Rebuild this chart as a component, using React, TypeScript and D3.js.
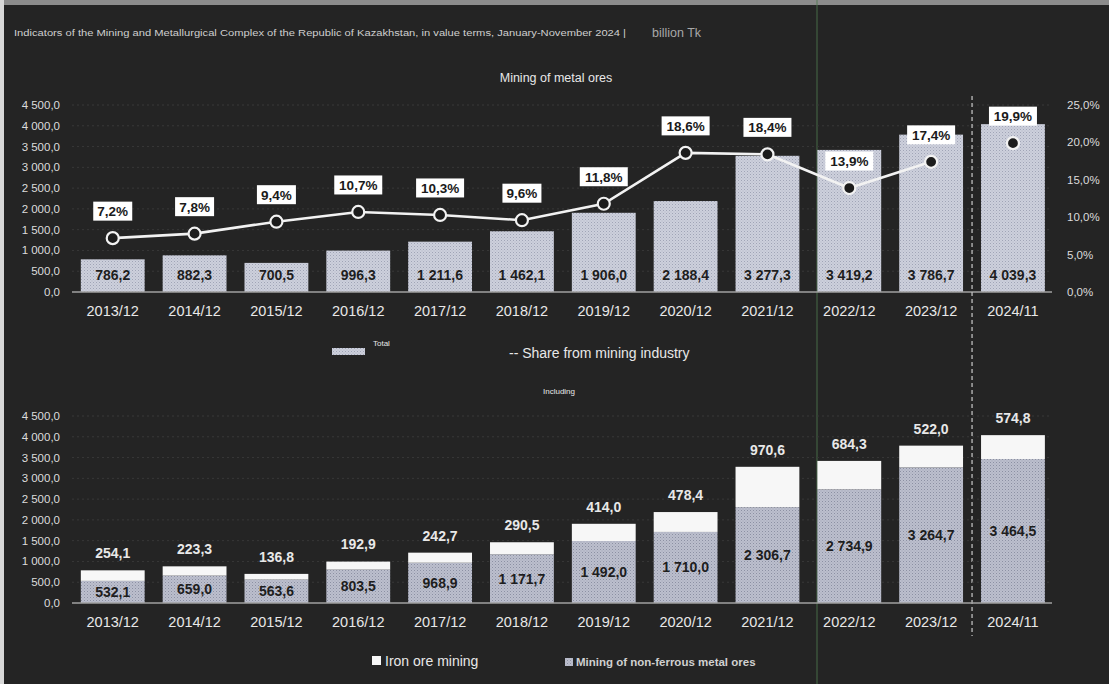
import React from 'react';
import * as d3 from 'd3';

const categories = ['2013/12', '2014/12', '2015/12', '2016/12', '2017/12', '2018/12', '2019/12', '2020/12', '2021/12', '2022/12', '2023/12', '2024/11'];
const totals = [786.2, 882.3, 700.5, 996.3, 1211.6, 1462.1, 1906.0, 2188.4, 3277.3, 3419.2, 3786.7, 4039.3];
const shares = [7.2, 7.8, 9.4, 10.7, 10.3, 9.6, 11.8, 18.6, 18.4, 13.9, 17.4, 19.9];
const nonFerrous = [532.1, 659.0, 563.6, 803.5, 968.9, 1171.7, 1492.0, 1710.0, 2306.7, 2734.9, 3264.7, 3464.5];
const ironOre = [254.1, 223.3, 136.8, 192.9, 242.7, 290.5, 414.0, 478.4, 970.6, 684.3, 522.0, 574.8];
const valueTicks = [0, 500, 1000, 1500, 2000, 2500, 3000, 3500, 4000, 4500];
const pctTicks = [0, 5, 10, 15, 20, 25];

const titleText = 'Indicators of the Mining and Metallurgical Complex of the Republic of Kazakhstan, in value terms, January-November 2024 |';
const unitText = 'billion Tk';
const topTitle = 'Mining of metal ores';
const subTitle = 'Including';
const legendTotal = 'Total';
const legendShare = '-- Share from mining industry';
const legendIron = 'Iron ore mining';
const legendNonFerrous = 'Mining of non-ferrous metal ores';

const locale = d3.formatLocale({ decimal: ',', thousands: ' ', grouping: [3], currency: ['', ''] });
const fmtVal = locale.format(',.1f');
const fmtPct = (v: number) => locale.format('.1f')(v) + '%';

const FONT = '"Liberation Sans", Arial, sans-serif';
const BG = '#242424';
const TXT = '#e8e8e8';

export default function App() {
  const W = 1109;
  const H = 684;

  const x = d3.scaleBand<string>().domain(categories).range([71, 1054.7]).paddingInner(0.22).paddingOuter(0.12);
  const bw = x.bandwidth();
  const step = x.step();

  const yTop = d3.scaleLinear().domain([0, 4500]).range([292, 105]);
  const yPct = d3.scaleLinear().domain([0, 25]).range([292, 105]);
  const yBot = d3.scaleLinear().domain([0, 4500]).range([603, 416]);

  const rows = categories.map((c, i) => ({ cat: c, nonFerrous: nonFerrous[i], ironOre: ironOre[i] }));
  const stack = d3.stack<any>().keys(['nonFerrous', 'ironOre'])(rows);

  const lineGen = d3.line<number>()
    .x((_, i) => (x(categories[i]) as number) + bw / 2)
    .y((d) => yPct(d));
  const connected = shares.slice(0, 11);

  const dashX = (x(categories[11]) as number) - (step - bw) / 2;

  return (
    <svg width={W} height={H} style={{ position: 'absolute', left: 0, top: 0, display: 'block' }} fontFamily={FONT}>
      <defs>
        <pattern id="dots" width="3" height="3" patternUnits="userSpaceOnUse">
          <rect width="3" height="3" fill="#cdd0dc" />
          <rect x="0" y="0" width="1" height="1" fill="#a0a4b6" />
          <rect x="1.5" y="1.5" width="1" height="1" fill="#b2b5c5" />
        </pattern>
        <pattern id="dots2" width="3" height="3" patternUnits="userSpaceOnUse">
          <rect width="3" height="3" fill="#bcbfcd" />
          <rect x="0" y="0" width="1" height="1" fill="#8c90a3" />
          <rect x="1.5" y="1.5" width="1" height="1" fill="#a0a4b5" />
        </pattern>
      </defs>
      <rect width={W} height={H} fill={BG} />
      <rect x={0} y={0} width={W} height={5} fill="#8c8c8c" />
      <rect x={0} y={0} width={4} height={H} fill="#d8d8d8" />
      <line x1={817} x2={817} y1={0} y2={H} stroke="#4f7a4f" strokeWidth={1.2} opacity={0.7} />

      {/* header */}
      <text x={14} y={36} fontSize={8.5} fill="#cfcfcf" textLength={612} lengthAdjust="spacingAndGlyphs">{titleText}</text>
      <text x={652} y={37} fontSize={12.5} fill="#a8a8a8">{unitText}</text>

      {/* ===== TOP CHART ===== */}
      <text x={556} y={82} fontSize={12.5} fill={TXT} textAnchor="middle">{topTitle}</text>

      {valueTicks.map((t) => (
        <g key={'tg' + t}>
          {t > 0 && <line x1={72} x2={1052} y1={yTop(t)} y2={yTop(t)} stroke="#383838" strokeDasharray="2,3" />}
          <text x={60} y={yTop(t)} dy="0.35em" fontSize={11.5} fill="#dcdcdc" textAnchor="end">{fmtVal(t)}</text>
        </g>
      ))}
      {pctTicks.map((t) => (
        <text key={'pt' + t} x={1067} y={yPct(t)} dy="0.35em" fontSize={11.5} fill="#dcdcdc">{fmtPct(t)}</text>
      ))}

      {totals.map((v, i) => (
        <g key={'tb' + i}>
          <rect x={x(categories[i])} y={yTop(v)} width={bw} height={yTop(0) - yTop(v)} fill="url(#dots)" />
          <text x={(x(categories[i]) as number) + bw / 2} y={yTop(0) - 17} dy="0.35em" fontSize={14} fontWeight="bold" fill="#1e1e1e" textAnchor="middle">{fmtVal(v)}</text>
        </g>
      ))}
      <line x1={72} x2={1052} y1={yTop(0)} y2={yTop(0)} stroke="#a0a0a0" strokeWidth={1.5} />
      {categories.map((c) => (
        <text key={'tx' + c} x={(x(c) as number) + bw / 2} y={311} dy="0.35em" fontSize={14.5} fill={TXT} textAnchor="middle">{c}</text>
      ))}

      <path d={lineGen(connected) || ''} fill="none" stroke="#f2f2f2" strokeWidth={2.6} />
      {shares.map((v, i) => {
        const cx = (x(categories[i]) as number) + bw / 2;
        const cy = yPct(v);
        const label = fmtPct(v);
        const w = label.length * 9 + 3;
        return (
          <g key={'pp' + i}>
            <circle cx={cx} cy={cy} r={6} fill="#1c1c1c" stroke="#f2f2f2" strokeWidth={2.2} />
            <rect x={cx - w / 2} y={cy - 27 - 9.5} width={w} height={19} fill="#ffffff" />
            <text x={cx} y={cy - 27} dy="0.36em" fontSize={13.5} fontWeight="bold" fill="#1a1a1a" textAnchor="middle">{label}</text>
          </g>
        );
      })}

      <line x1={dashX} x2={dashX} y1={96} y2={636} stroke="#bdbdbd" strokeWidth={1.3} strokeDasharray="4,3" />

      {/* top legend */}
      <rect x={332} y={348} width={33} height={7} fill="url(#dots)" />
      <text x={373} y={346} fontSize={8} fill={TXT}>{legendTotal}</text>
      <text x={509} y={353} dy="0.35em" fontSize={14} fill={TXT}>{legendShare}</text>
      <text x={559} y={391} dy="0.35em" fontSize={8} fill={TXT} textAnchor="middle">{subTitle}</text>

      {/* ===== BOTTOM CHART ===== */}
      {valueTicks.map((t) => (
        <g key={'bg' + t}>
          {t > 0 && <line x1={72} x2={1052} y1={yBot(t)} y2={yBot(t)} stroke="#383838" strokeDasharray="2,3" />}
          <text x={60} y={yBot(t)} dy="0.35em" fontSize={11.5} fill="#dcdcdc" textAnchor="end">{fmtVal(t)}</text>
        </g>
      ))}

      {stack[0].map((d, i) => {
        const bx = x(categories[i]) as number;
        return (
          <g key={'nf' + i}>
            <rect x={bx} y={yBot(d[1])} width={bw} height={yBot(d[0]) - yBot(d[1])} fill="url(#dots2)" />
            <text x={bx + bw / 2} y={(yBot(d[0]) + yBot(d[1])) / 2} dy="0.35em" fontSize={14} fontWeight="bold" fill="#1e1e1e" textAnchor="middle">{fmtVal(nonFerrous[i])}</text>
          </g>
        );
      })}
      {stack[1].map((d, i) => {
        const bx = x(categories[i]) as number;
        return (
          <g key={'io' + i}>
            <rect x={bx} y={yBot(d[1])} width={bw} height={yBot(d[0]) - yBot(d[1])} fill="#f7f7f7" />
            <text x={bx + bw / 2} y={yBot(d[1]) - 17} dy="0.35em" fontSize={14} fontWeight="bold" fill={TXT} textAnchor="middle">{fmtVal(ironOre[i])}</text>
          </g>
        );
      })}
      <line x1={72} x2={1052} y1={yBot(0)} y2={yBot(0)} stroke="#a0a0a0" strokeWidth={1.5} />
      {categories.map((c) => (
        <text key={'bx' + c} x={(x(c) as number) + bw / 2} y={622} dy="0.35em" fontSize={14.5} fill={TXT} textAnchor="middle">{c}</text>
      ))}

      {/* bottom legend */}
      <rect x={372} y={656} width={9} height={9} fill="#f7f7f7" />
      <text x={385} y={661} dy="0.35em" fontSize={14} fill={TXT}>{legendIron}</text>
      <rect x={565} y={658} width={8} height={8} fill="url(#dots2)" />
      <text x={576} y={662} dy="0.35em" fontSize={11.5} fontWeight="bold" fill="#d0d0d0">{legendNonFerrous}</text>
    </svg>
  );
}
